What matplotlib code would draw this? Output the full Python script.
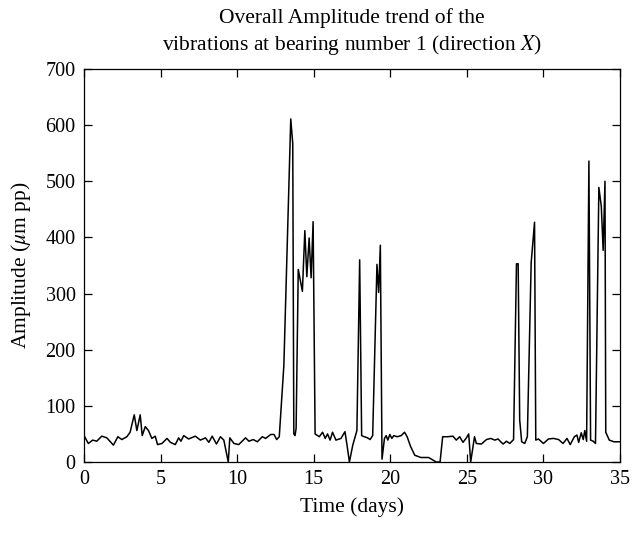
import matplotlib
matplotlib.use("Agg")
import matplotlib.pyplot as plt

plt.rcParams['font.family'] = ['Liberation Serif', 'DejaVu Serif']
plt.rcParams['mathtext.fontset'] = 'stix'

# Time (days)
time_days = [
    0.0, 0.28, 0.57, 0.83, 1.16, 1.49, 1.92, 2.21, 2.47, 2.8, 3.01, 3.28, 3.45, 3.67, 3.8,
    4.0, 4.21, 4.43, 4.65, 4.8, 5.09, 5.42, 5.64, 5.96, 6.18, 6.33, 6.51, 6.83, 7.27, 7.6,
    7.93, 8.15, 8.37, 8.65, 8.91, 9.13, 9.42, 9.52, 9.79, 10.1, 10.55, 10.77, 11.05, 11.32,
    11.64, 11.86, 12.19, 12.41, 12.58, 12.75, 13.05, 13.5, 13.63, 13.7, 13.78, 13.85, 13.99,
    14.26, 14.42, 14.55, 14.7, 14.83, 14.96, 15.09, 15.36, 15.58, 15.75, 15.9, 16.07, 16.23,
    16.45, 16.78, 17.04, 17.17, 17.33, 17.55, 17.82, 18.0, 18.13, 18.3, 18.52, 18.68, 18.85,
    19.13, 19.24, 19.35, 19.46, 19.62, 19.73, 19.84, 19.97, 20.1, 20.23, 20.45, 20.71, 20.93,
    21.1, 21.32, 21.6, 22.0, 22.5, 23.0, 23.25, 23.42, 23.75, 24.09, 24.31, 24.53, 24.75,
    24.97, 25.12, 25.25, 25.5, 25.62, 25.95, 26.28, 26.56, 26.82, 27.04, 27.21, 27.37, 27.59,
    27.8, 28.05, 28.24, 28.35, 28.45, 28.58, 28.78, 28.95, 29.2, 29.42, 29.5, 29.67, 30.0,
    30.33, 30.66, 30.99, 31.28, 31.54, 31.75, 32.02, 32.19, 32.3, 32.47, 32.6, 32.7, 32.82,
    32.97, 33.08, 33.25, 33.4, 33.62, 33.78, 33.9, 34.02, 34.07, 34.3, 34.6, 35.0,
]

# Overall amplitude (um pp)
amplitude = [
    47, 33, 39, 37, 46, 43, 30, 45, 40, 45, 53, 84, 56, 84, 47,
    63, 56, 42, 46, 31, 33, 42, 35, 31, 43, 37, 47, 41, 46, 39,
    43, 35, 46, 32, 45, 39, 0, 43, 33, 31, 43, 37, 40, 36,
    45, 42, 49, 49, 40, 45, 172, 611, 567, 50, 47, 60, 343,
    304, 412, 330, 399, 328, 428, 50, 45, 53, 42, 50, 39, 53,
    39, 42, 54, 31, 0, 30, 56, 360, 47, 45, 43, 40, 47,
    352, 302, 386, 5, 42, 47, 39, 49, 42, 47, 45, 47, 53,
    45, 28, 12, 8, 8, 0, 0, 45, 45, 46, 39, 45, 35,
    43, 50, 0, 45, 33, 32, 40, 42, 39, 41, 36, 32, 37,
    33, 40, 353, 353, 75, 36, 33, 45, 355, 427, 39, 41, 33,
    41, 42, 40, 33, 42, 31, 45, 48, 35, 52, 40, 56, 37,
    536, 39, 37, 33, 489, 455, 377, 500, 53, 39, 36, 36,
]

x_ticks = [0, 5, 10, 15, 20, 25, 30, 35]
y_ticks = [0, 100, 200, 300, 400, 500, 600, 700]

fig = plt.figure(figsize=(6.37, 5.47), dpi=100)
ax = fig.add_axes([0.1319, 0.1554, 0.8414, 0.7185])
ax.plot(time_days, amplitude, color='black', linewidth=1.1)

ax.set_xlim(0, 35)
ax.set_ylim(0, 700)
ax.set_xticks(x_ticks)
ax.set_yticks(y_ticks)
ax.tick_params(direction='in', top=True, right=True, length=6, width=0.9, labelsize=14.5, pad=6)
for s in ax.spines.values():
    s.set_linewidth(0.9)

ax.set_xlabel('Time (days)', fontsize=15.5, labelpad=6)
ax.set_ylabel(r'Amplitude ($\mu$m pp)', fontsize=15.5, labelpad=9)
ax.set_title('Overall Amplitude trend of the\nvibrations at bearing number 1 (direction $X$)',
             fontsize=15.5, linespacing=1.25, pad=14)

fig.savefig('out.png', dpi=100)
